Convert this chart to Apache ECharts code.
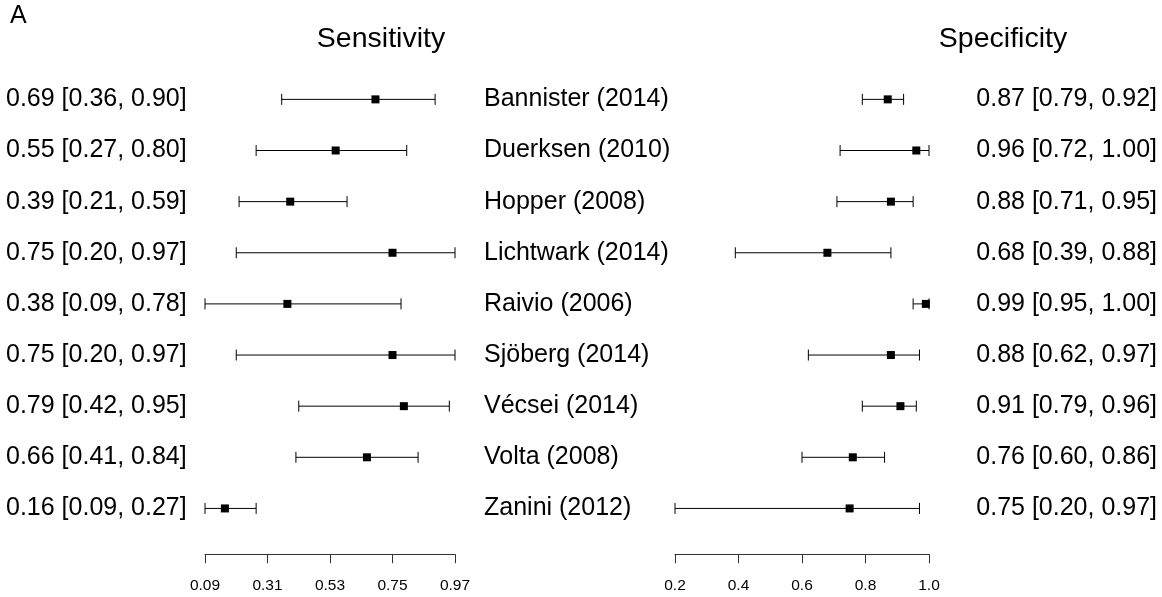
<!DOCTYPE html>
<html>
<head>
<meta charset="utf-8">
<script src="https://cdn.jsdelivr.net/npm/echarts@6/dist/echarts.min.js"></script>
<style>
html,body{margin:0;padding:0;background:#fff;}
#chart{width:1162px;height:597px;}
</style>
</head>
<body>
<div id="chart"></div>
<script>
const studies = ['Bannister (2014)', 'Duerksen (2010)', 'Hopper (2008)', 'Lichtwark (2014)', 'Raivio (2006)', 'Sjöberg (2014)', 'Vécsei (2014)', 'Volta (2008)', 'Zanini (2012)'];
const sens   = [0.69, 0.55, 0.39, 0.75, 0.38, 0.75, 0.79, 0.66, 0.16];
const sensLo = [0.36, 0.27, 0.21, 0.20, 0.09, 0.20, 0.42, 0.41, 0.09];
const sensHi = [0.90, 0.80, 0.59, 0.97, 0.78, 0.97, 0.95, 0.84, 0.27];
const spec   = [0.87, 0.96, 0.88, 0.68, 0.99, 0.88, 0.91, 0.76, 0.75];
const specLo = [0.79, 0.72, 0.71, 0.39, 0.95, 0.62, 0.79, 0.60, 0.20];
const specHi = [0.92, 1.00, 0.95, 0.88, 1.00, 0.97, 0.96, 0.86, 0.97];
const sensTicks = [0.09, 0.31, 0.53, 0.75, 0.97];
const specTicks = [0.2, 0.4, 0.6, 0.8, 1.0];

const FONT = "'Liberation Sans', Arial, Helvetica, sans-serif";
const fmt = (v, lo, hi) => v.toFixed(2) + ' [' + lo.toFixed(2) + ', ' + hi.toFixed(2) + ']';
const sensLabels = sens.map((v, i) => fmt(v, sensLo[i], sensHi[i]));
const specLabels = spec.map((v, i) => fmt(v, specLo[i], specHi[i]));

function errRender(params, api) {
  const p1 = api.coord([api.value(0), api.value(2)]);
  const p2 = api.coord([api.value(1), api.value(2)]);
  const h = 5.5;
  const st = {stroke: '#000', lineWidth: 1};
  return {
    type: 'group',
    children: [
      {type: 'line', shape: {x1: p1[0], y1: p1[1], x2: p2[0], y2: p2[1]}, style: st},
      {type: 'line', shape: {x1: p1[0], y1: p1[1] - h, x2: p1[0], y2: p1[1] + h}, style: st},
      {type: 'line', shape: {x1: p2[0], y1: p2[1] - h, x2: p2[0], y2: p2[1] + h}, style: st}
    ]
  };
}

const gridTop = 73.8, gridH = 460.2;
const LBL = 25;
const xAxisCommon = {
  type: 'value',
  position: 'bottom',
  offset: 20.2,
  splitLine: {show: false},
  axisLine: {show: true, lineStyle: {color: '#333', width: 1}},
  axisTick: {show: true, length: 9, lineStyle: {color: '#333'}},
  axisLabel: {color: '#000', fontSize: 15.5, fontFamily: FONT, margin: 24}
};
const yHidden = {show: true, axisLine: {show: false}, axisTick: {show: false}, splitLine: {show: false}};

const option = {
  animation: false,
  backgroundColor: '#fff',
  textStyle: {fontFamily: FONT},
  grid: [
    {left: 205, width: 250, top: gridTop, height: gridH},
    {left: 675, width: 254, top: gridTop, height: gridH}
  ],
  xAxis: [
    Object.assign({}, xAxisCommon, {
      gridIndex: 0, min: 0.09, max: 0.97,
      axisTick: Object.assign({}, xAxisCommon.axisTick, {customValues: sensTicks}),
      axisLabel: Object.assign({}, xAxisCommon.axisLabel, {customValues: sensTicks, formatter: v => (+v).toFixed(2)})
    }),
    Object.assign({}, xAxisCommon, {
      gridIndex: 1, min: 0.2, max: 1.0, interval: 0.2,
      axisLabel: Object.assign({}, xAxisCommon.axisLabel, {formatter: v => (+v).toFixed(1)})
    })
  ],
  yAxis: [
    Object.assign({}, yHidden, {
      type: 'category', gridIndex: 0, data: studies, inverse: true, position: 'left',
      axisLabel: {align: 'left', margin: 199, fontSize: LBL, color: '#000', fontFamily: FONT,
        formatter: (v, i) => sensLabels[i]}
    }),
    Object.assign({}, yHidden, {
      type: 'category', gridIndex: 1, data: studies, inverse: true, position: 'left',
      axisLabel: {align: 'left', margin: 191, fontSize: LBL, color: '#000', fontFamily: FONT}
    }),
    Object.assign({}, yHidden, {
      type: 'category', gridIndex: 1, data: studies, inverse: true, position: 'right',
      axisLabel: {align: 'right', margin: 228, fontSize: LBL, color: '#000', fontFamily: FONT,
        formatter: (v, i) => specLabels[i]}
    })
  ],
  graphic: [
    {type: 'text', left: 10, top: 4, style: {text: 'A', fontSize: 25, fill: '#000', fontFamily: FONT}},
    {type: 'text', x: 381, y: 39, style: {text: 'Sensitivity', fontSize: 28.5, fill: '#000', fontFamily: FONT, align: 'center', verticalAlign: 'middle'}},
    {type: 'text', x: 1003, y: 39, style: {text: 'Specificity', fontSize: 28.5, fill: '#000', fontFamily: FONT, align: 'center', verticalAlign: 'middle'}}
  ],
  series: [
    {
      type: 'custom', xAxisIndex: 0, yAxisIndex: 0, renderItem: errRender,
      encode: {x: [0, 1], y: 2},
      data: studies.map((s, i) => [sensLo[i], sensHi[i], i])
    },
    {
      type: 'scatter', xAxisIndex: 0, yAxisIndex: 0, symbol: 'rect', symbolSize: 8,
      itemStyle: {color: '#000', opacity: 1},
      data: studies.map((s, i) => [sens[i], i])
    },
    {
      type: 'custom', xAxisIndex: 1, yAxisIndex: 1, renderItem: errRender,
      encode: {x: [0, 1], y: 2},
      data: studies.map((s, i) => [specLo[i], specHi[i], i])
    },
    {
      type: 'scatter', xAxisIndex: 1, yAxisIndex: 1, symbol: 'rect', symbolSize: 8,
      itemStyle: {color: '#000', opacity: 1},
      data: studies.map((s, i) => [spec[i], i])
    }
  ]
};

const chart = echarts.init(document.getElementById('chart'));
chart.setOption(option);
</script>
</body>
</html>
